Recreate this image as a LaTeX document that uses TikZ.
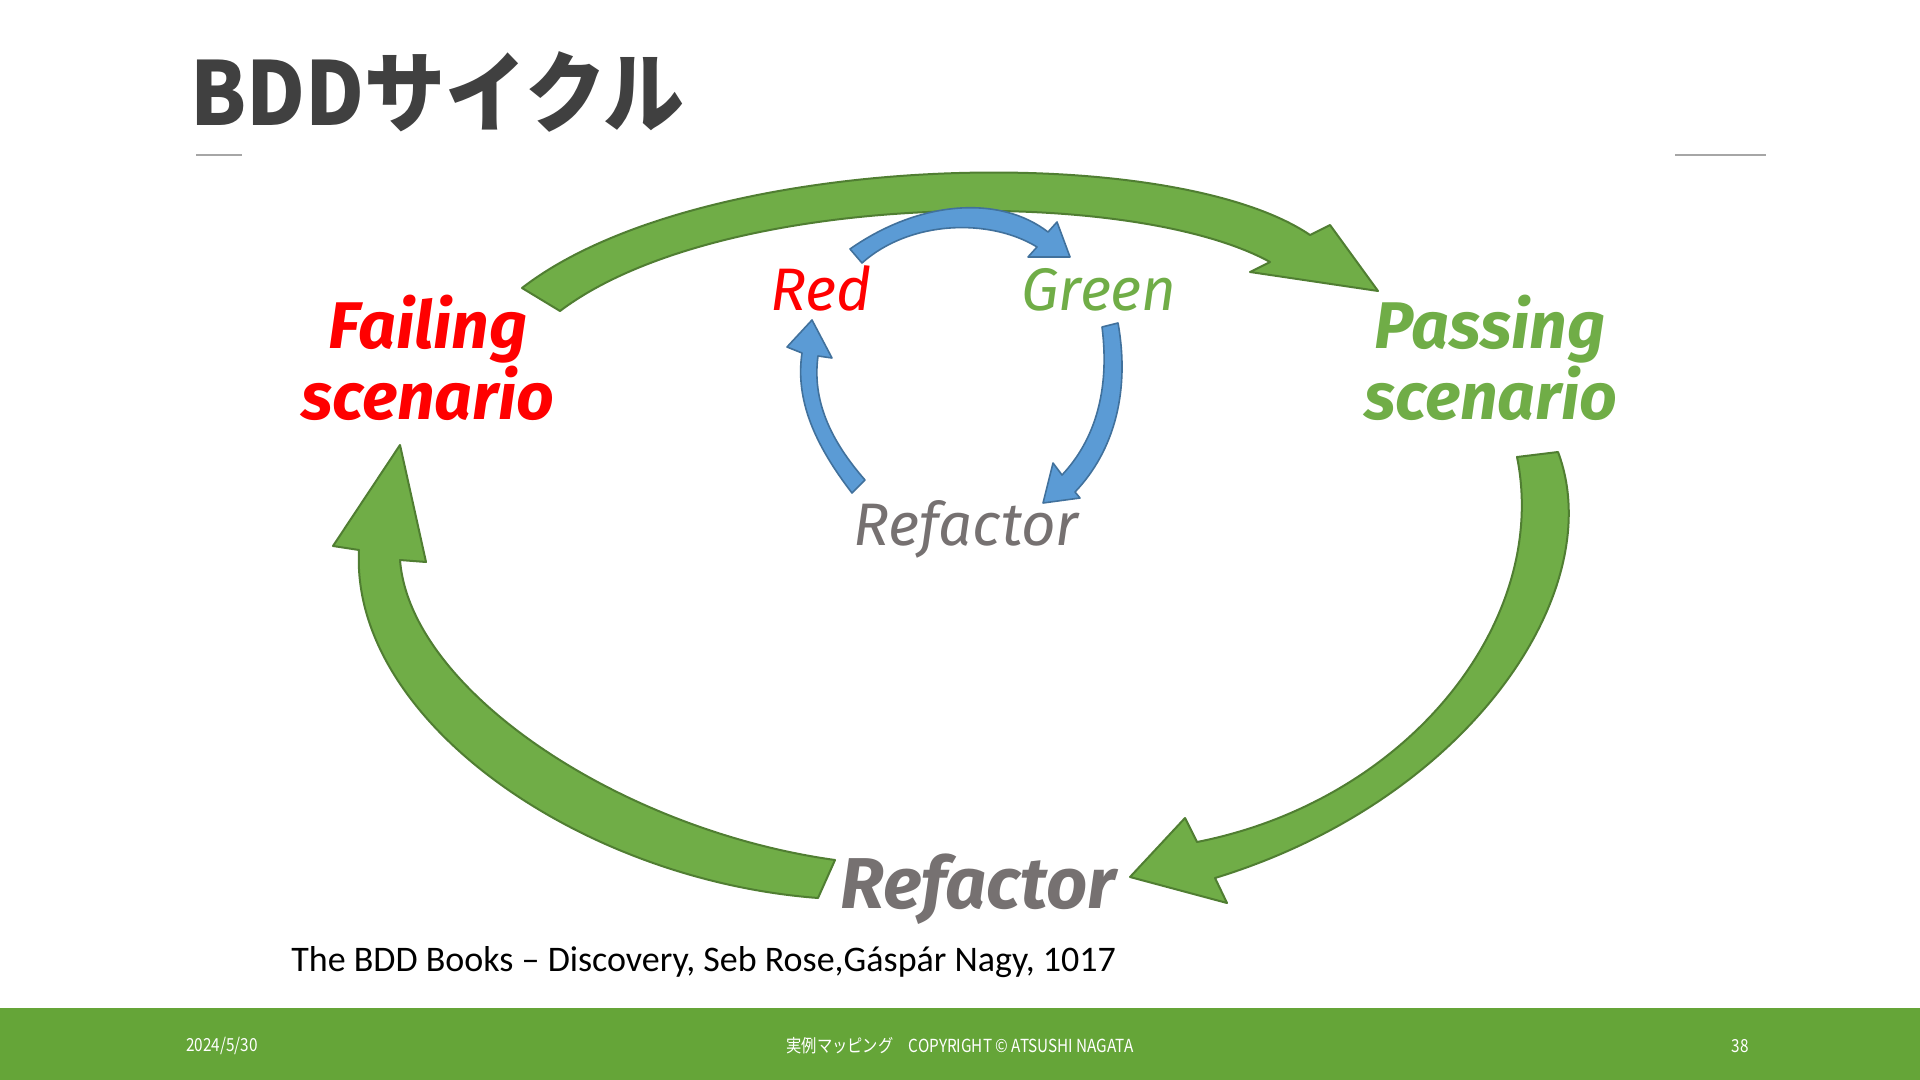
\documentclass[tikz,border=0pt]{standalone}
\usepackage{fontspec}
\usepackage{xcolor}
\setmainfont{Carlito}
\newfontfamily\jpfont{Noto Sans CJK JP}
\newfontfamily\handfont{Fira Sans}
\definecolor{titlegray}{RGB}{64,64,64}
\definecolor{rulegray}{RGB}{166,166,166}
\definecolor{bandgreen}{RGB}{101,165,56}
\definecolor{arrowgreen}{RGB}{112,173,71}
\definecolor{arrowgreenline}{RGB}{80,126,50}
\definecolor{arrowblue}{RGB}{91,155,213}
\definecolor{arrowblueline}{RGB}{65,113,156}
\definecolor{labelgreen}{RGB}{112,173,71}
\definecolor{labelgray}{RGB}{118,113,113}
\tikzset{
  bigarrow/.style={fill=arrowgreen, draw=arrowgreenline, line width=1pt, line join=round},
  smallarrow/.style={fill=arrowblue, draw=arrowblueline, line width=0.8pt, line join=round},
  biglabel/.style={anchor=base, inner sep=0pt, font=\handfont\bfseries\itshape\fontsize{33}{36}\selectfont},
  smalllabel/.style={anchor=base, inner sep=0pt, font=\handfont\itshape\fontsize{30}{33}\selectfont}
}
\begin{document}
\begin{tikzpicture}[x=0.5pt, y=-0.5pt]
  \useasboundingbox (0,0) rectangle (1920,1080);
  \fill[white] (0,0) rectangle (1920,1080);

  % title and short rules
  \node[anchor=base west, inner sep=0pt, text=titlegray] (title) at (190,126)
    {\jpfont\bfseries\fontsize{44}{48}\selectfont\scalebox{0.92}[1]{BDDサイクル}};
  \draw[rulegray, line width=1.2pt] (196,155) -- (242,155);
  \draw[rulegray, line width=1.2pt] (1675,155) -- (1766,155);

  % outer cycle: failing -> passing -> refactor -> failing
  \filldraw[bigarrow] (522,288) .. controls (700,150) and (1170,140) .. (1310,235)
    -- (1330,225) -- (1378,291) -- (1250,272) -- (1270,262)
    .. controls (1130,185) and (720,190) .. (560,311) -- cycle;
  \filldraw[bigarrow] (1558,452) .. controls (1610,590) and (1470,800) .. (1215,878)
    -- (1227,903) -- (1130,877) -- (1185,818) -- (1197,842)
    .. controls (1410,800) and (1550,620) .. (1517,457) -- cycle;
  \filldraw[bigarrow] (818,898) .. controls (580,880) and (350,720) .. (359,550)
    -- (333,546) -- (400,445) -- (426,562) -- (400,560)
    .. controls (410,690) and (620,830) .. (835,860) -- cycle;

  % inner cycle: red -> green -> refactor -> red
  \filldraw[smallarrow] (850,249) .. controls (920,200) and (1000,195) .. (1048,232)
    -- (1057,222) -- (1070,257) -- (1028,257) -- (1037,247)
    .. controls (990,218) and (910,220) .. (862,263) -- cycle;
  \filldraw[smallarrow] (1118,323) .. controls (1130,390) and (1115,450) .. (1075,492)
    -- (1080,498) -- (1043,503) -- (1053,463) -- (1062,475)
    .. controls (1095,440) and (1110,390) .. (1102,327) -- cycle;
  \filldraw[smallarrow] (852,493) .. controls (815,445) and (795,400) .. (802,353)
    -- (787,347) -- (812,320) -- (832,358) -- (818,356)
    .. controls (812,400) and (830,440) .. (865,480) -- cycle;

  % labels
  \node[biglabel, text=red] (failing) at (428,349) {Failing};
  \node[biglabel, text=red] (failingsc) at (428,419) {scenario};
  \node[biglabel, text=labelgreen] (passing) at (1490,349) {Passing};
  \node[biglabel, text=labelgreen] (passingsc) at (1491,419) {scenario};
  \node[biglabel, text=labelgray, font=\handfont\bfseries\itshape\fontsize{36}{40}\selectfont] (refactorbig) at (978,908) {Refactor};
  \node[smalllabel, text=red] (red) at (821,311) {Red};
  \node[smalllabel, text=labelgreen] (green) at (1099,311) {Green};
  \node[smalllabel, text=labelgray] (refactor) at (966,545) {Refactor};

  % citation
  \node[anchor=base west, inner sep=0pt, font=\fontsize{18}{22}\selectfont] (cite) at (291,971)
    {The BDD Books -- Discovery, Seb Rose,Gáspár Nagy, 1017};

  % footer band
  \fill[bandgreen] (0,1008) rectangle (1920,1080);
  \node[anchor=west, inner sep=0pt, text=white, font=\jpfont\fontsize{9}{11}\selectfont] (date) at (186,1046) {\scalebox{0.85}[1]{2024/5/30}};
  \node[inner sep=0pt, text=white, font=\jpfont\fontsize{9}{11}\selectfont] (footer) at (960,1046) {\scalebox{0.85}[1]{実例マッピング\quad COPYRIGHT © ATSUSHI NAGATA}};
  \node[inner sep=0pt, text=white, font=\jpfont\fontsize{9}{11}\selectfont] (page) at (1740,1046) {\scalebox{0.85}[1]{38}};
\end{tikzpicture}
\end{document}
